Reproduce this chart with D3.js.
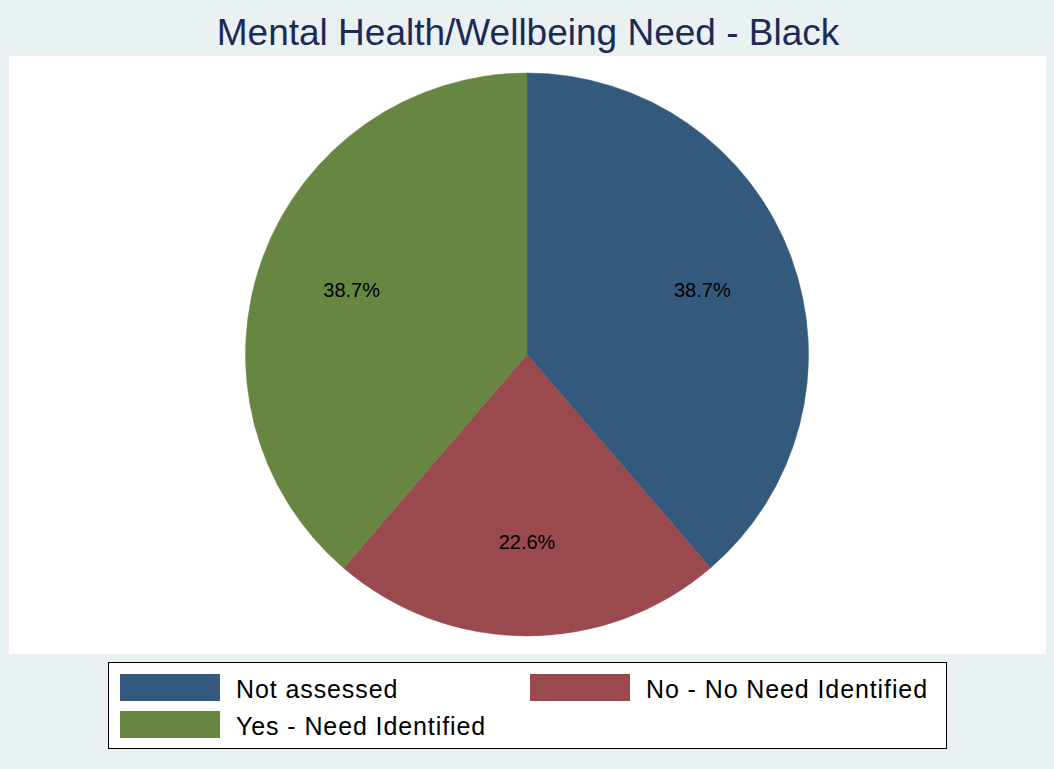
<!DOCTYPE html>
<html>
<head>
<meta charset="utf-8">
<script src="https://cdn.jsdelivr.net/npm/d3@7"></script>
<style>
  html, body { margin: 0; padding: 0; background: #EAF1F2; }
  svg { display: block; }
  text { font-family: "Liberation Sans", Arial, sans-serif; }
</style>
</head>
<body>
<svg id="chart" width="1054" height="769"></svg>
<script>
// Chart data
const titleText = "Mental Health/Wellbeing Need - Black";
const categories = ["Not assessed", "No - No Need Identified", "Yes - Need Identified"];
const percents = [38.7, 22.6, 38.7];
const colors = ["#335A7D", "#9A4A4F", "#678642"];

const W = 1054, H = 769;
const svg = d3.select("#chart");

// Outer background
svg.append("rect").attr("width", W).attr("height", H).attr("fill", "#EAF1F2");

// Plot region
svg.append("rect")
  .attr("x", 9).attr("y", 56).attr("width", 1037).attr("height", 598)
  .attr("fill", "#ffffff");

// Title
svg.append("text")
  .attr("x", 528).attr("y", 45)
  .attr("text-anchor", "middle")
  .attr("font-size", 37)
  .attr("fill", "#1C2B56")
  .text(titleText);

// Pie
const cx = 527, cy = 354.5, r = 281.5;
const data = categories.map((c, i) => ({ name: c, value: percents[i], color: colors[i] }));
const pie = d3.pie().value(d => d.value).sort(null);
const arcs = pie(data);
const arc = d3.arc().innerRadius(0).outerRadius(r);
const labelArc = d3.arc().innerRadius(187).outerRadius(187);

const g = svg.append("g").attr("transform", `translate(${cx},${cy})`);
g.selectAll("path.slice")
  .data(arcs)
  .join("path")
  .attr("class", "slice")
  .attr("d", arc)
  .attr("fill", d => d.data.color)
  .attr("stroke", d => d.data.color)
  .attr("stroke-width", 0.5);

g.selectAll("text.pct")
  .data(arcs)
  .join("text")
  .attr("class", "pct")
  .attr("transform", d => `translate(${labelArc.centroid(d)})`)
  .attr("text-anchor", "middle")
  .attr("dy", "0.35em")
  .attr("font-size", 20)
  .attr("fill", "#000")
  .text(d => d3.format(".1f")(d.data.value) + "%");

// Legend
const legend = svg.append("g");
legend.append("rect")
  .attr("x", 108.5).attr("y", 662.5).attr("width", 838).attr("height", 86)
  .attr("fill", "#ffffff").attr("stroke", "#000").attr("stroke-width", 1);

const legendPos = [
  { x: 120, y: 674 },
  { x: 530, y: 674 },
  { x: 120, y: 711 }
];
const items = legend.selectAll("g.item")
  .data(data)
  .join("g")
  .attr("class", "item")
  .attr("transform", (d, i) => `translate(${legendPos[i].x},${legendPos[i].y})`);
items.append("rect")
  .attr("width", 100).attr("height", 27)
  .attr("fill", d => d.color);
items.append("text")
  .attr("x", 116).attr("y", 23.5)
  .attr("font-size", 25)
  .attr("letter-spacing", 0.9)
  .attr("fill", "#000")
  .text(d => d.name);
</script>
</body>
</html>
